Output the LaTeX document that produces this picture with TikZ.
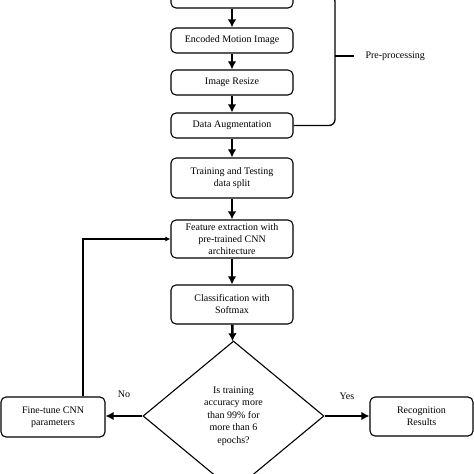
\documentclass[tikz,border=0pt]{standalone}
\usepackage{fontspec}
\setmainfont{Liberation Serif}
\usetikzlibrary{shapes,arrows.meta,positioning,calc}

\begin{document}
\begin{tikzpicture}[
    x=1pt, y=-1pt,
    box/.style={rectangle, rounded corners=5pt, draw=black, line width=1.1pt, fill=white, minimum width=122pt, minimum height=25pt, align=center, inner sep=2pt, font=\fontsize{10}{12}\selectfont},
    decision/.style={diamond, draw=black, line width=1.1pt, minimum width=181pt, minimum height=150pt, inner sep=0pt, align=center, font=\fontsize{10}{12.5}\selectfont},
    arrow/.style={-{Latex[length=8pt,width=8.5pt]}, line width=2.6pt},
    thinarrow/.style={-{Latex[length=5pt,width=5pt]}, line width=1.1pt}
]
\useasboundingbox (0,0) rectangle (474,474);
\clip (0,0) rectangle (474,474);

% Pre-processing stages
\node[box] (input) at (232, -4.5) {};
\node[box] (encode) at (232, 40.5) {Encoded Motion Image};
\draw[arrow] (input) -- (encode);
\node[box] (resize) at (232, 82.5) {Image Resize};
\draw[arrow] (encode) -- (resize);
\node[box] (augment) at (232, 125.5) {Data Augmentation};
\draw[arrow] (resize) -- (augment);

% Bracket
\coordinate (bracemid) at (335, 56);
\draw[line width=1.3pt, rounded corners=6pt] (input.east) -| (bracemid) |- (augment.east);
\draw[line width=2.2pt] (bracemid) -- ++(19,0) coordinate (tickend);
\node[font=\fontsize{10}{12}\selectfont, anchor=west] (prep) at ($(tickend)+(8,0)$) {Pre-processing};

% Training
\node[box, minimum height=40pt] (split) at (232, 178) {Training and Testing\\data split};
\draw[arrow] (augment) -- (split);
\node[box, minimum height=38pt] (feature) at (232, 239) {Feature extraction with\\pre-trained CNN\\architecture};
\draw[arrow] (split) -- (feature);
\node[box, minimum height=39pt] (classify) at (232, 304.5) {Classification with\\Softmax};
\draw[arrow] (feature) -- (classify);

% Decision
\node[decision] (check) at (233.5, 416) {Is training\\accuracy more\\than 99\% for\\more than 6\\epochs?};
\draw[arrow] (classify) -- (check);

\node[box, minimum width=104pt, minimum height=40pt] (tune) at (53, 417) {Fine-tune CNN\\parameters};
\node[box, minimum width=103pt, minimum height=39pt] (result) at (421.5, 416.5) {Recognition\\Results};

\draw[arrow] (check.west) -- (check.west -| tune.east) node[pos=0.5, above=14pt, font=\fontsize{10}{12}\selectfont] (nolabel) {No};
\draw[arrow] (check.east) -- (check.east -| result.west) node[pos=0.5, above=12pt, font=\fontsize{10}{12}\selectfont] (yeslabel) {Yes};

% Feedback loop
\draw[thinarrow] ($(tune.north)+(30,0)$) |- (feature.west);

\end{tikzpicture}
\end{document}
